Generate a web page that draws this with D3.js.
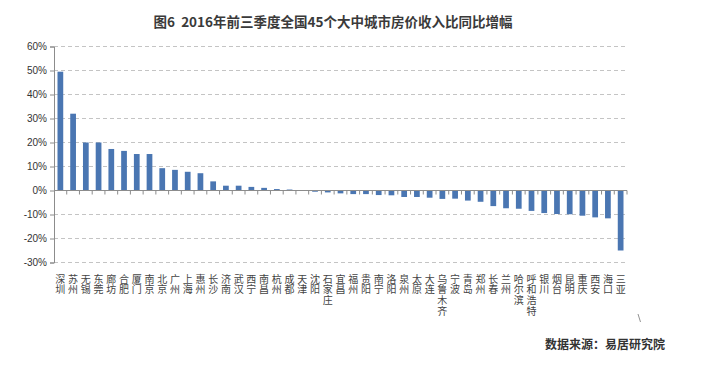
<!DOCTYPE html>
<html><head><meta charset="utf-8">
<script src="https://cdn.jsdelivr.net/npm/d3@7"></script>
<style>body{margin:0;background:#fff;}svg{display:block;font-family:"Noto Sans CJK SC","DejaVu Sans",sans-serif;}</style>
</head><body><svg id="c" width="706" height="373"></svg>
<script>
const cities = ["深圳","苏州","无锡","东莞","廊坊","合肥","厦门","南京","北京","广州","上海","惠州","长沙","济南","武汉","西宁","南昌","杭州","成都","天津","沈阳","石家庄","宜昌","福州","贵阳","南宁","洛阳","泉州","太原","大连","乌鲁木齐","宁波","青岛","郑州","长春","兰州","哈尔滨","呼和浩特","银川","烟台","昆明","重庆","西安","海口","三亚"];
const growth = [49.5,32.0,20.0,20.0,17.3,16.5,15.2,15.2,9.3,8.6,7.8,7.2,3.8,2.0,2.0,1.5,1.1,0.6,0.4,0.1,-0.5,-0.8,-1.2,-1.5,-1.5,-1.9,-2.0,-2.7,-2.7,-3.0,-3.5,-3.4,-4.2,-4.7,-6.5,-7.4,-7.6,-8.5,-9.4,-9.8,-9.9,-10.5,-11.2,-11.6,-25.0];
const yTicks = [60,50,40,30,20,10,0,-10,-20,-30];
const title = "图6  2016年前三季度全国45个大中城市房价收入比同比增幅";
const source = "数据来源：易居研究院";

const svg = d3.select("#c");
const x = d3.scaleBand().domain(cities).range([54, 627]).paddingInner(0.55).paddingOuter(0.275);
const xb = d3.scaleBand().domain(cities).range([54, 627]);
const y = d3.scaleLinear().domain([-30, 60]).range([262.5, 46.5]);

// gridlines
svg.append("g").selectAll("line").data(yTicks.filter(d => d !== 0)).join("line")
  .attr("x1", 54).attr("x2", 627).attr("y1", d => y(d)).attr("y2", d => y(d))
  .attr("stroke", "#c4c4c4").attr("stroke-dasharray", "4,3").attr("stroke-width", 1);

// bars
svg.append("g").selectAll("rect").data(cities).join("rect")
  .attr("x", d => x(d)).attr("width", x.bandwidth())
  .attr("y", (d, i) => y(Math.max(0, growth[i])))
  .attr("height", (d, i) => Math.abs(y(growth[i]) - y(0)))
  .attr("fill", "#4a76b2");

// y axis
const ya = d3.axisLeft(y).tickValues(yTicks).tickFormat(d => d + "%").tickSize(4).tickPadding(3);
const gy = svg.append("g").attr("transform", "translate(54,0)").call(ya);
gy.select(".domain").attr("stroke", "#8c8c8c");
gy.selectAll(".tick line").attr("stroke", "#8c8c8c");
gy.selectAll(".tick text").attr("fill", "#333").attr("font-size", "10px").attr("font-family", "Arial, 'Liberation Sans', sans-serif");

// zero line with category ticks
const gx = svg.append("g");
gx.append("line").attr("x1", 54).attr("x2", 627).attr("y1", y(0)).attr("y2", y(0)).attr("stroke", "#8c8c8c");
gx.selectAll("line.t").data(cities).join("line").attr("class", "t")
  .attr("x1", d => xb(d) + xb.bandwidth()).attr("x2", d => xb(d) + xb.bandwidth())
  .attr("y1", y(0)).attr("y2", y(0) + 4).attr("stroke", "#8c8c8c");

// x labels, vertical writing
svg.append("g").selectAll("text").data(cities).join("text")
  .attr("x", d => xb(d) + xb.bandwidth() / 2).attr("y", 274)
  .style("writing-mode", "vertical-rl").style("text-orientation", "upright")
  .attr("letter-spacing", "0.7px")
  .attr("fill", "#444").attr("font-size", "10px").text(d => d);

// small stray stroke seen in the reference
svg.append("line").attr("x1", 638).attr("y1", 314).attr("x2", 640.5).attr("y2", 322)
  .attr("stroke", "#777").attr("stroke-width", 0.8);

// title
svg.append("text").attr("x", 333).attr("y", 27).attr("text-anchor", "middle")
  .style("white-space", "pre")
  .attr("font-size", "13.5px").attr("font-weight", "bold").attr("fill", "#3a3a3a").text(title);

// source
svg.append("text").attr("x", 605).attr("y", 349).attr("text-anchor", "middle")
  .attr("font-size", "12px").attr("font-weight", "bold").attr("fill", "#333").text(source);
</script></body></html>
